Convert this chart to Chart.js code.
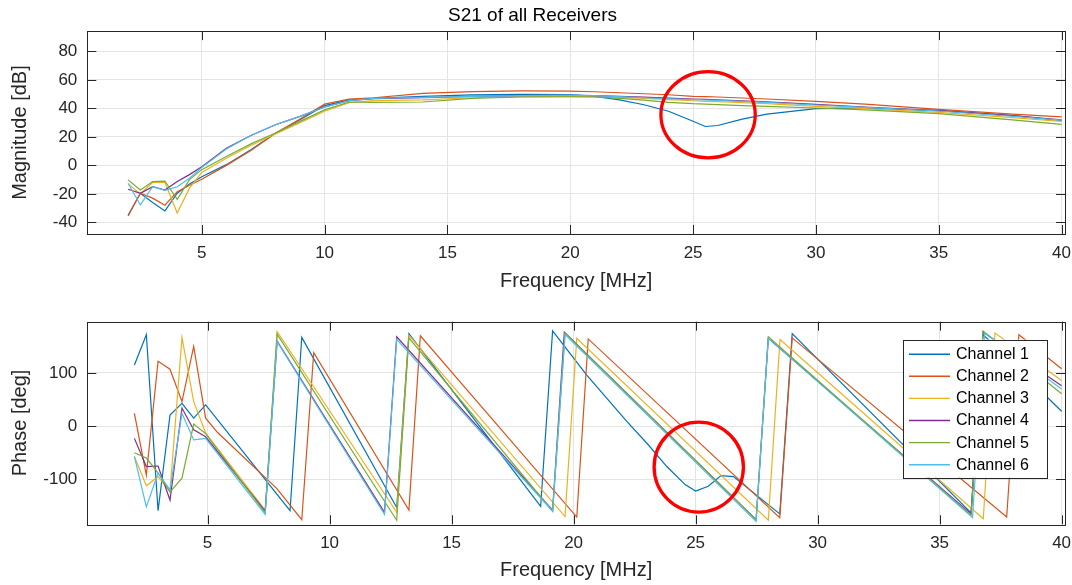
<!DOCTYPE html>
<html>
<head>
<meta charset="utf-8">
<title>S21 of all Receivers</title>
<script src="https://cdn.jsdelivr.net/npm/chart.js@4.4.1/dist/chart.umd.min.js"></script>
<style>
  body { margin: 0; background: #fff; }
  canvas { display: block; }
</style>
</head>
<body>
<canvas id="magChart" width="1072" height="300"></canvas>
<canvas id="phaseChart" width="1072" height="285"></canvas>
<script>
const channels = ['Channel 1', 'Channel 2', 'Channel 3', 'Channel 4', 'Channel 5', 'Channel 6'];
const colors = ['#0072BD', '#D95319', '#EDB120', '#7E2F8E', '#77AC30', '#4DBEEE'];

const freqTicks = [5, 10, 15, 20, 25, 30, 35, 40];
const magTicks = [-40, -20, 0, 20, 40, 60, 80];
const phaseTicks = [-100, 0, 100];

// magnitude, dB
const magFreq = [2, 2.5, 3, 3.5, 4, 4.5, 5, 6, 7, 8, 9, 10, 11, 12, 14, 16, 18, 20, 21, 22, 23, 24, 25, 25.5, 26, 27, 28, 30, 32, 35, 38, 40];
const magCh1 = [-35, -19.6, -26, -32, -19.6, -13, -8, 0.5, 11, 22.5, 32, 42, 46, 47, 48.5, 49.5, 49.8, 49.7, 48.5, 46, 42.6, 38, 31, 27.3, 28, 32.5, 36, 39.8, 40.2, 38.4, 35, 31.5];
const magCh2 = [-35.6, -19.6, -23, -28, -18.5, -14, -9.7, 0, 10.5, 22.5, 32.5, 43, 46.5, 47.5, 50.5, 51.8, 52.3, 52.2, 51.7, 51, 50.3, 49.6, 48.5, 48.3, 48, 47.3, 46.6, 45, 43, 39.3, 36, 34];
const magCh3 = [-13, -20, -12, -12, -33.5, -16, -5, 5, 14, 22, 30, 38, 44, 45.5, 46, 47.5, 48.3, 48.5, 48.2, 47.8, 47, 46.2, 45.4, 45, 44.7, 44, 43.3, 41.4, 39.8, 37.2, 33.5, 30.9];
const magCh4 = [-16.8, -19.6, -15, -17.3, -11.4, -6.5, -1, 12, 21, 28.5, 34.4, 41, 45.4, 46.9, 47.5, 48.5, 49, 49.2, 49, 48.5, 47.9, 47.2, 46.6, 46.3, 46, 45.3, 44.6, 42.8, 41, 38.5, 35, 32];
const magCh5 = [-10.2, -17.3, -11.4, -11, -23.9, -10, -3, 6.2, 15.1, 22.7, 30.9, 39, 44.5, 44.3, 44.5, 47, 48, 48.2, 48, 47, 45.8, 44.3, 43.3, 43, 42.7, 42, 41.5, 40.3, 39, 36.3, 32, 28.8];
const magCh6 = [-12.6, -27.8, -15, -17.5, -15, -9, -1.5, 11.5, 21, 28.5, 34.4, 41, 45.5, 47, 47.8, 48.5, 49, 49.3, 49, 48.3, 47.5, 46.8, 46.2, 45.9, 45.6, 45, 44.3, 42.4, 40.8, 38.2, 34.5, 31.8];

// phase, [MHz, deg] at the corners of each trace
const phaseCh1 = [[2.00, 115], [2.49, 172], [2.97, -159], [3.46, 21], [3.95, 43], [4.43, 15], [4.92, 40], [8.38, -159], [8.86, 167], [12.75, -153], [13.25, 174], [18.65, -151], [19.14, 179], [20.54, 96], [22.18, 9], [23.06, -35], [23.82, -76], [24.57, -110], [25.0, -122], [25.52, -113], [26.04, -93], [26.55, -95], [28.45, -165], [28.96, 174], [36.29, -163], [36.78, 172], [40.0, 28]];
const phaseCh2 = [[2.00, 24], [2.49, -92], [2.97, 122], [3.46, 107], [3.95, 46], [4.43, 150], [4.92, 15], [5.41, -12], [7.83, -117], [8.86, -176], [9.35, 138], [13.25, -158], [13.72, 170], [20.13, -171], [20.6, 164], [28.45, -172], [28.96, 166], [37.75, -171], [38.25, 172], [40.0, 108]];
const phaseCh3 = [[2.00, -57], [2.49, -112], [2.97, -95], [3.46, -123], [3.95, 167], [4.43, 46], [4.92, -13], [7.36, -158], [7.85, 178], [12.75, -162], [13.25, 171], [19.65, -170], [20.13, 165], [27.98, -177], [28.46, 163], [36.79, -174], [37.27, 175], [40.0, 86]];
const phaseCh4 = [[2.00, -23], [2.49, -76], [2.97, -75], [3.46, -139], [3.95, 34], [4.43, -7], [4.92, -20], [7.36, -160], [7.85, 160], [12.25, -162], [12.75, 168], [19.14, -158], [19.62, 177], [27.48, -176], [27.98, 165], [36.29, -165], [36.78, 177], [40.0, 76]];
const phaseCh5 = [[2.00, -50], [2.49, -60], [2.97, -88], [3.46, -124], [3.95, -98], [4.43, 4], [4.92, -14], [7.36, -163], [7.85, 173], [12.75, -177], [13.25, 166], [19.14, -160], [19.65, 175], [27.48, -176], [27.98, 168], [36.29, -168], [36.78, 179], [40.0, 61]];
const phaseCh6 = [[2.00, -57], [2.49, -152], [2.97, -88], [3.46, -120], [3.95, 24], [4.43, -26], [4.92, -23], [7.36, -166], [7.85, 159], [12.25, -166], [12.75, 163], [19.14, -160], [19.65, 172], [27.48, -179], [27.98, 165], [36.35, -172], [36.85, 175], [40.0, 70]];

const magSeries = [magCh1, magCh2, magCh3, magCh4, magCh5, magCh6];
const phaseSeries = [phaseCh1, phaseCh2, phaseCh3, phaseCh4, phaseCh5, phaseCh6];

const FONT = "'Liberation Sans', Arial, Helvetica, sans-serif";
const textColor = '#262626';
const gridColor = '#e4e4e4';

function makeDataset(i, points) {
  return {
    label: channels[i],
    data: points,
    borderColor: colors[i],
    backgroundColor: colors[i],
    borderWidth: 1.2,
    pointRadius: 0,
    tension: 0,
    fill: false,
    order: channels.length - i  // channel 6 ends up on top
  };
}

function freqAxis(min, max, height, titleBottom) {
  return {
    type: 'linear',
    min: min,
    max: max,
    afterBuildTicks: s => { s.ticks = freqTicks.map(v => ({ value: v })); },
    afterFit: s => {
      s.height = height;
      // the last label may hang past the plot edge, like the original axes
      s.paddingLeft = 0;
      s.paddingRight = 0;
    },
    grid: { color: gridColor, drawTicks: false },
    border: { display: false },
    ticks: { color: textColor, font: { family: FONT, size: 17 }, padding: 9, autoSkip: false, maxRotation: 0 },
    title: { display: true, text: 'Frequency [MHz]', color: textColor, font: { family: FONT, size: 20 }, padding: { top: 0, bottom: titleBottom } }
  };
}

function valueAxis(min, max, tickValues, label) {
  return {
    type: 'linear',
    min: min,
    max: max,
    afterBuildTicks: s => { s.ticks = tickValues.map(v => ({ value: v })); },
    afterFit: s => {
      s.width = 87.3;
      s.paddingTop = 0;
      s.paddingBottom = 0;
    },
    grid: { color: gridColor, drawTicks: false },
    border: { display: false },
    ticks: { color: textColor, font: { family: FONT, size: 17 }, padding: 10, autoSkip: false },
    title: { display: true, text: label, color: textColor, font: { family: FONT, size: 20 }, padding: { top: 8, bottom: 0 } }
  };
}

// box around the plot area with inward tick marks on all four sides
const axesBox = {
  id: 'axesBox',
  afterDatasetsDraw(chart) {
    const { ctx, chartArea: a, scales: { x, y } } = chart;
    const len = 9;
    ctx.save();
    ctx.strokeStyle = textColor;
    ctx.lineWidth = 1;
    ctx.beginPath();
    x.ticks.forEach(t => {
      const px = Math.round(x.getPixelForValue(t.value)) + 0.5;
      ctx.moveTo(px, a.top); ctx.lineTo(px, a.top + len);
      ctx.moveTo(px, a.bottom); ctx.lineTo(px, a.bottom - len);
    });
    y.ticks.forEach(t => {
      const py = Math.round(y.getPixelForValue(t.value)) + 0.5;
      ctx.moveTo(a.left, py); ctx.lineTo(a.left + len, py);
      ctx.moveTo(a.right, py); ctx.lineTo(a.right - len, py);
    });
    ctx.stroke();
    ctx.strokeRect(Math.round(a.left) + 0.5, Math.round(a.top) + 0.5,
                   Math.round(a.right - a.left), Math.round(a.bottom - a.top));
    ctx.restore();
  }
};

// red ellipse highlighting the Channel 1 notch, given in data units
const ring = {
  id: 'ring',
  afterDraw(chart, args, opts) {
    const { ctx, scales: { x, y } } = chart;
    const cx = x.getPixelForValue(opts.x);
    const cy = y.getPixelForValue(opts.y);
    const rx = Math.abs(x.getPixelForValue(opts.x + opts.rx) - cx);
    const ry = Math.abs(y.getPixelForValue(opts.y + opts.ry) - cy);
    ctx.save();
    ctx.strokeStyle = '#ff0000';
    ctx.lineWidth = 3.3;
    ctx.beginPath();
    ctx.ellipse(cx, cy, rx, ry, 0, 0, Math.PI * 2);
    ctx.stroke();
    ctx.restore();
  }
};

// boxed legend in the upper right corner of the phase plot
const boxLegend = {
  id: 'boxLegend',
  afterDraw(chart) {
    const { ctx, chartArea: a } = chart;
    const w = 144, h = 138;
    const left = a.right - 18 - w, top = a.top + 18;
    ctx.save();
    ctx.fillStyle = '#ffffff';
    ctx.fillRect(left, top, w, h);
    ctx.strokeStyle = textColor;
    ctx.lineWidth = 1;
    ctx.strokeRect(Math.round(left) + 0.5, Math.round(top) + 0.5, w, h);
    ctx.font = '16px ' + FONT;
    ctx.textBaseline = 'middle';
    ctx.fillStyle = '#000000';
    channels.forEach((name, i) => {
      const cy = top + 14.5 + i * 22.1;
      ctx.strokeStyle = colors[i];
      ctx.lineWidth = 1.4;
      ctx.beginPath();
      ctx.moveTo(left + 6, cy);
      ctx.lineTo(left + 47, cy);
      ctx.stroke();
      ctx.fillText(name, left + 53, cy + 0.5);
    });
    ctx.restore();
  }
};

new Chart(document.getElementById('magChart'), {
  type: 'line',
  data: {
    datasets: magSeries.map((vals, i) => makeDataset(i, vals.map((v, j) => ({ x: magFreq[j], y: v }))))
  },
  options: {
    responsive: false,
    animation: false,
    layout: { padding: { left: 0, right: 7, top: 0, bottom: 0 } },
    scales: {
      x: freqAxis(0.34, 40.14, 66, 7),
      y: valueAxis(-48.2, 94.3, magTicks, 'Magnitude [dB]')
    },
    plugins: {
      legend: { display: false },
      tooltip: { enabled: false },
      title: {
        display: true,
        text: 'S21 of all Receivers',
        color: '#000000',
        font: { family: FONT, size: 19, weight: 'normal' },
        padding: { top: 4, bottom: 4.3 }
      },
      ring: { x: 25.61, y: 35.6, rx: 1.92, ry: 30.3 }
    }
  },
  plugins: [axesBox, ring]
});

new Chart(document.getElementById('phaseChart'), {
  type: 'line',
  data: {
    datasets: phaseSeries.map((pts, i) => makeDataset(i, pts.map(p => ({ x: p[0], y: p[1] }))))
  },
  options: {
    responsive: false,
    animation: false,
    layout: { padding: { left: 0, right: 7, top: 21.7, bottom: 0 } },
    scales: {
      x: freqAxis(0.07, 40.14, 60.7, 3),
      y: valueAxis(-184.6, 196.4, phaseTicks, 'Phase [deg]')
    },
    plugins: {
      legend: { display: false },
      tooltip: { enabled: false },
      ring: { x: 25.13, y: -77, rx: 1.83, ry: 84.6 }
    }
  },
  plugins: [axesBox, ring, boxLegend]
});
</script>
</body>
</html>
